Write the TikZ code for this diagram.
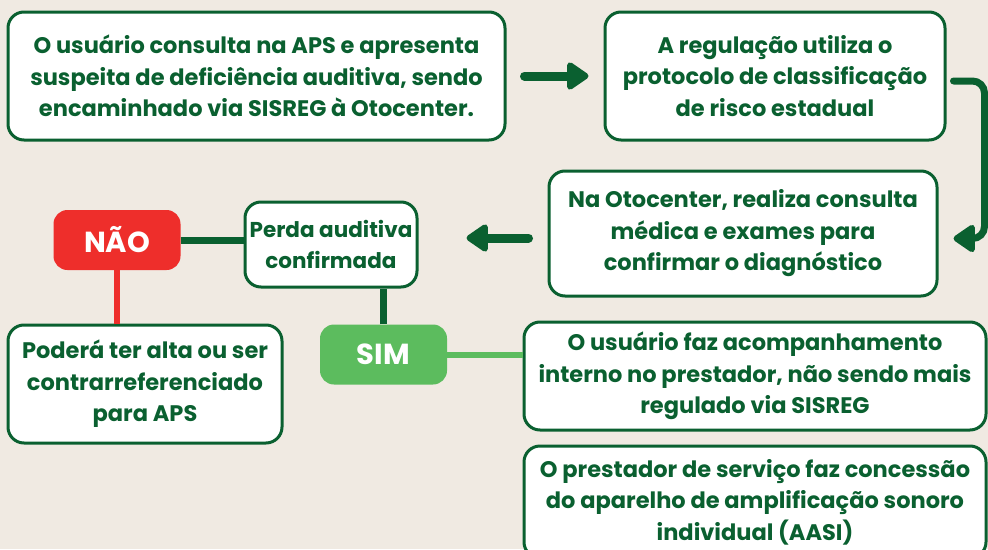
\documentclass[tikz,border=0pt]{standalone}
\usepackage{fontspec}
\setmainfont{Poppins}
\usepackage{tikz}
\usetikzlibrary{arrows.meta,calc}
\definecolor{verdeescuro}{RGB}{10,96,48}
\definecolor{verdeclaro}{RGB}{92,188,94}
\definecolor{vermelho}{RGB}{238,46,43}
\definecolor{fundo}{RGB}{240,234,226}

\begin{document}
\begin{tikzpicture}[x=1pt, y=-1pt,
    caixa/.style={draw=verdeescuro, line width=3pt, fill=white, rounded corners=16pt,
        inner sep=0pt, align=center, text=verdeescuro,
        font=\fontsize{22.5}{31.5}\selectfont\bfseries},
    rotulo/.style={rounded corners=14pt, inner sep=0pt, text=white,
        font=\fontsize{29}{31}\selectfont\bfseries, minimum width=127pt, minimum height=60pt},
    seta/.style={draw=verdeescuro, line width=9pt, line cap=round,
        -{Triangle[length=24pt, width=31pt, round]}},
    liga/.style={line width=7pt}]
    % Fundo
    \fill[fundo] (0,0) rectangle (988,549);
    \useasboundingbox (0,0) rectangle (988,549);
    % Caixas do fluxo
    \node[caixa, minimum width=497pt, minimum height=128pt] (consulta) at (256.5,76)
        {O usuário consulta na APS e apresenta\\suspeita de deficiência auditiva, sendo\\encaminhado via SISREG à Otocenter.};
    \node[caixa, minimum width=340pt, minimum height=128pt] (regulacao) at (775,76)
        {A regulação utiliza o\\protocolo de classificação\\de risco estadual};
    \node[caixa, minimum width=388pt, minimum height=125pt] (otocenter) at (743,233.5)
        {Na Otocenter, realiza consulta\\médica e exames para\\confirmar o diagnóstico};
    \node[caixa, minimum width=172pt, minimum height=85pt,
        font=\fontsize{21.5}{31.5}\selectfont\bfseries] (perda) at (331,244.5)
        {Perda auditiva\\confirmada};
    \node[caixa, minimum width=274pt, minimum height=118pt] (alta) at (145,384)
        {Poderá ter alta ou ser\\contrarreferenciado\\para APS};
    \node[caixa, minimum width=462pt, minimum height=108pt] (acompanha) at (755,376)
        {O usuário faz acompanhamento\\interno no prestador, não sendo mais\\regulado via SISREG};
    \node[caixa, minimum width=462pt, minimum height=112pt] (aasi) at (755,502)
        {O prestador de serviço faz concessão\\do aparelho de amplificação sonoro\\individual (AASI)};
    % Respostas
    \node[rotulo, fill=vermelho] (nao) at (117,240) {NÃO};
    \node[rotulo, fill=verdeclaro] (sim) at (383.5,354.5) {SIM};
    % Setas
    \draw[seta] ([xshift=18pt]consulta.east) -- ([xshift=-15pt]regulacao.west);
    \draw[seta, line width=7pt, rounded corners=12pt]
        ([xshift=7pt,yshift=-5pt]regulacao.east) -| ([xshift=46pt,yshift=-5pt]otocenter.east)
        -- ([xshift=15pt,yshift=-5pt]otocenter.east);
    \draw[seta] ([xshift=-19pt,yshift=-4.5pt]otocenter.west) coordinate (cauda)
        -- ($(cauda -| perda.east)+(48,0)$);
    % Ligacoes
    \draw[liga, verdeescuro] (nao.east) -- (nao.east -| perda.west);
    \draw[liga, vermelho, line width=6pt] (nao.south) -- (nao.south |- alta.north);
    \draw[liga, verdeescuro] (sim.north) -- (sim.north |- perda.south);
    \draw[liga, verdeclaro, line width=6pt] (sim.east) -- (sim.east -| acompanha.west);
\end{tikzpicture}
\end{document}
